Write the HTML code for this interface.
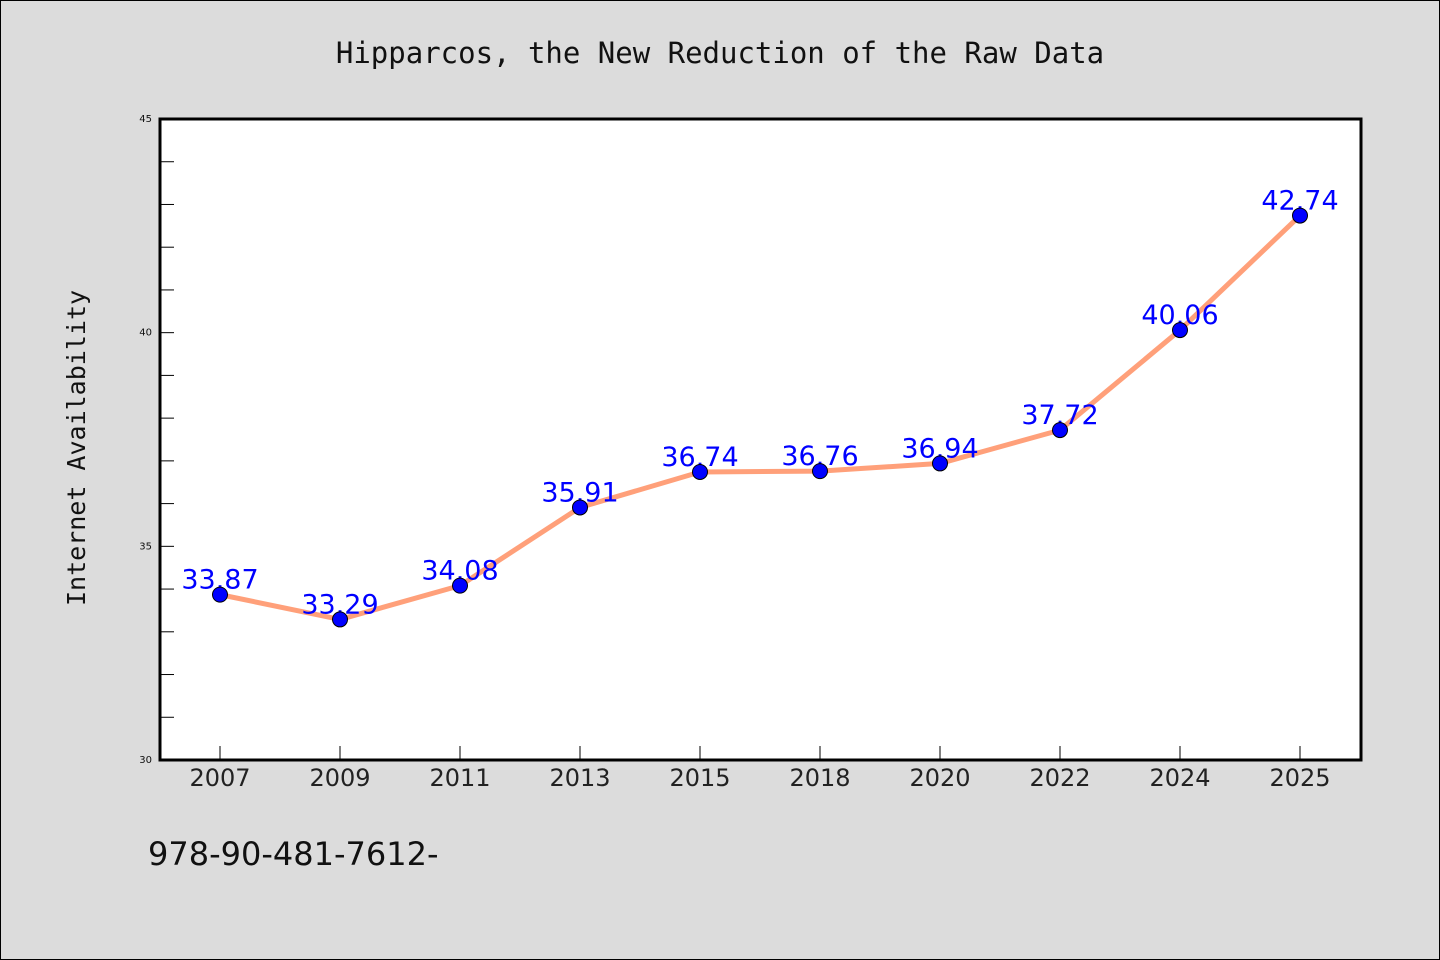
<!DOCTYPE html>
<html><head><meta charset="utf-8"><style>
html,body{margin:0;padding:0;background:#dcdcdc;}
svg{display:block;}
</style></head><body>
<svg id="chart" width="1440" height="960" xmlns="http://www.w3.org/2000/svg">
<rect x="0.5" y="0.5" width="1439" height="959" fill="#dcdcdc" stroke="#000" stroke-width="1"/>
<text x="720" y="63" text-anchor="middle" font-family="'WenQuanYi Zen Hei Mono','DejaVu Sans Mono',monospace" font-size="29" fill="#111">Hipparcos, the New Reduction of the Raw Data</text>
<rect x="160" y="119" width="1201" height="641" fill="#fff"/>
<g id="axes"></g>
<g id="marks"></g>
<rect x="160" y="119" width="1201" height="641" fill="none" stroke="#000" stroke-width="3"/>
<text transform="translate(85,448) rotate(-90)" text-anchor="middle" font-family="'WenQuanYi Zen Hei Mono','DejaVu Sans Mono',monospace" font-size="25" fill="#111">Internet Availability</text>
<text x="148" y="865" font-family="'WenQuanYi Zen Hei','DejaVu Sans',sans-serif" font-size="32" fill="#111">978-90-481-7612-</text>
</svg>
<script>
const categories = ['2007','2009','2011','2013','2015','2018','2020','2022','2024','2025'];
const values = [33.87,33.29,34.08,35.91,36.74,36.76,36.94,37.72,40.06,42.74];
const valueLabels = ['33.87','33.29','34.08','35.91','36.74','36.76','36.94','37.72','40.06','42.74'];
const yTickLabels = [30,35,40,45];
const yMin=30,yMax=45;
const L=160,R=1360,T=119,B=760;
const NS='http://www.w3.org/2000/svg';
function yS(v){return B-(v-yMin)/(yMax-yMin)*(B-T);}
function xS(i){const w=(R-L)/categories.length;return L+w*(i+0.5);}
function mk(tag,attrs,parent){const e=document.createElementNS(NS,tag);for(const k in attrs)e.setAttribute(k,attrs[k]);parent.appendChild(e);return e;}
const axes=document.getElementById('axes'),marks=document.getElementById('marks');
for(let v=yMin;v<=yMax;v++){
  const t=mk('line',{x1:L,x2:L+14,y1:yS(v),y2:yS(v),stroke:'#000','stroke-width':1},axes);
  
  
}
yTickLabels.forEach(v=>{
  const t=mk('text',{x:L-8,y:yS(v)+3,'text-anchor':'end','font-family':'DejaVu Sans,sans-serif','font-size':10,fill:'#111'},axes);
  t.textContent=v;
  
  
});
categories.forEach((c,i)=>{
  const t=mk('line',{x1:xS(i),x2:xS(i),y1:B,y2:B-14,stroke:'#000','stroke-width':1},axes);
  
  
  const l=mk('text',{x:xS(i),y:B+26,'text-anchor':'middle','font-family':'DejaVu Sans,sans-serif','font-size':24,fill:'#222'},axes);
  l.textContent=c;
  
  
});
const pts=values.map((v,i)=>xS(i)+','+yS(v)).join(' ');
const line=mk('polyline',{points:pts,fill:'none',stroke:'#ffa07a','stroke-width':5,'stroke-linejoin':'round'},marks);


values.forEach((v,i)=>{
  const t=mk('text',{x:xS(i),y:yS(v)-6,'text-anchor':'middle','font-family':'DejaVu Sans,sans-serif','font-size':27,fill:'#0000ff'},marks);
  t.textContent=valueLabels[i];
  
  
});
values.forEach((v,i)=>{
  const c=mk('circle',{cx:xS(i),cy:yS(v),r:7.5,fill:'#0000ff',stroke:'#000','stroke-width':1},marks);
  
  
});
</script>
</body></html>
